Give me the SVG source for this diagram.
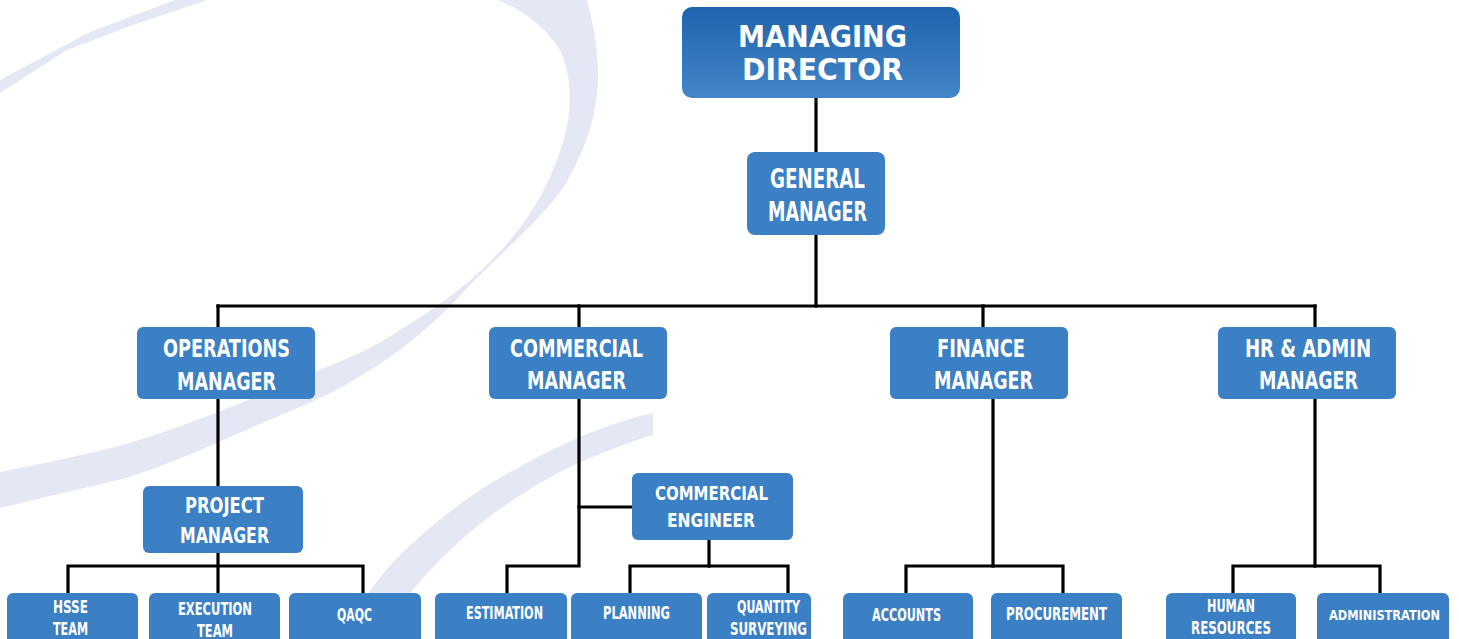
<svg xmlns="http://www.w3.org/2000/svg" width="1459" height="639" viewBox="0 0 1459 639">
<defs>
<linearGradient id="mdGrad" x1="0" y1="0" x2="0" y2="1">
<stop offset="0" stop-color="#1e63ad"/>
<stop offset="1" stop-color="#4386c8"/>
</linearGradient>
<style>
.box{fill:#3b80c5}
.t{fill:#ffffff;font-family:"DejaVu Sans Condensed","DejaVu Sans","Liberation Sans",sans-serif;font-weight:bold;text-anchor:middle}
.c{fill:none;stroke:#000000;stroke-width:3.2;stroke-linecap:square}
.sw{fill:#e4e8f4}
</style>
</defs>
<rect width="1459" height="639" fill="#ffffff"/>
<g id="background">
<path class="sw" d="M0,80 L90,32 L175,0 L207,0 L133,25 L67,50 L0,93 Z"/>
<path class="sw" d="M497,0 C515,6 545,25 560,50 C572,75 572,110 565,135 C555,170 540,205 510,240 C485,270 450,300 400,330 C370,350 340,362 300,378 C250,400 190,424 139,440 C100,452 50,462 0,472 L0,508 C45,497 90,487 126,478 C160,467 190,455 230,437 C280,415 320,400 345,385 C390,360 430,330 470,285 C510,245 545,215 565,185 C585,150 598,115 598,75 C598,45 592,20 587,0 Z"/>
<path class="sw" d="M653,413 C630,418 600,428 580,437 C550,450 515,468 480,490 C450,510 420,535 395,560 C375,582 355,610 340,639 L380,639 C395,612 415,585 440,560 C465,535 490,515 513,500 C540,482 565,468 590,458 C615,448 635,440 653,435 Z"/>
</g>
<g id="connectors">
<line class="c" x1="816" y1="98" x2="816" y2="152"/>
<line class="c" x1="816" y1="235" x2="816" y2="306"/>
<line class="c" x1="218" y1="306" x2="1315" y2="306"/>
<line class="c" x1="218" y1="306" x2="218" y2="327"/>
<line class="c" x1="579" y1="306" x2="579" y2="327"/>
<line class="c" x1="983" y1="306" x2="983" y2="327"/>
<line class="c" x1="1315" y1="306" x2="1315" y2="327"/>
<line class="c" x1="218" y1="399" x2="218" y2="486"/>
<line class="c" x1="218" y1="553" x2="218" y2="593"/>
<polyline class="c" points="68,593 68,566 363,566 363,593"/>
<polyline class="c" points="579,399 579,566 507,566 507,593"/>
<line class="c" x1="579" y1="507" x2="632" y2="507"/>
<line class="c" x1="709" y1="540" x2="709" y2="566"/>
<polyline class="c" points="630,593 630,566 788,566 788,593"/>
<line class="c" x1="993" y1="399" x2="993" y2="566"/>
<polyline class="c" points="906,593 906,566 1063,566 1063,593"/>
<line class="c" x1="1315" y1="399" x2="1315" y2="566"/>
<polyline class="c" points="1233,593 1233,566 1380,566 1380,593"/>
</g>
<g id="managing-director">
<rect x="682" y="7" width="278" height="91" rx="10" fill="url(#mdGrad)"/>
<text class="t" x="822.5" y="47" font-size="31" textLength="169" lengthAdjust="spacingAndGlyphs">MANAGING</text>
<text class="t" x="822.5" y="80" font-size="31" textLength="161" lengthAdjust="spacingAndGlyphs">DIRECTOR</text>
</g>
<g id="general-manager">
<rect class="box" x="747" y="152" width="138" height="83" rx="8"/>
<text class="t" x="817.5" y="188" font-size="27" textLength="95" lengthAdjust="spacingAndGlyphs">GENERAL</text>
<text class="t" x="817.5" y="221" font-size="27" textLength="99" lengthAdjust="spacingAndGlyphs">MANAGER</text>
</g>
<g id="operations-manager">
<rect class="box" x="137" y="327" width="178" height="72" rx="6"/>
<text class="t" x="226.5" y="357" font-size="24" textLength="127" lengthAdjust="spacingAndGlyphs">OPERATIONS</text>
<text class="t" x="226.5" y="390" font-size="24" textLength="99" lengthAdjust="spacingAndGlyphs">MANAGER</text>
</g>
<g id="commercial-manager">
<rect class="box" x="489" y="327" width="178" height="72" rx="6"/>
<text class="t" x="576.5" y="357" font-size="24" textLength="133" lengthAdjust="spacingAndGlyphs">COMMERCIAL</text>
<text class="t" x="576.5" y="389" font-size="24" textLength="99" lengthAdjust="spacingAndGlyphs">MANAGER</text>
</g>
<g id="finance-manager">
<rect class="box" x="890" y="327" width="178" height="72" rx="6"/>
<text class="t" x="981" y="357" font-size="24" textLength="88" lengthAdjust="spacingAndGlyphs">FINANCE</text>
<text class="t" x="983.5" y="389" font-size="24" textLength="99" lengthAdjust="spacingAndGlyphs">MANAGER</text>
</g>
<g id="hr-admin-manager">
<rect class="box" x="1218" y="327" width="178" height="72" rx="6"/>
<text class="t" x="1308" y="357" font-size="24" textLength="126" lengthAdjust="spacingAndGlyphs">HR &amp; ADMIN</text>
<text class="t" x="1308.5" y="389" font-size="24" textLength="99" lengthAdjust="spacingAndGlyphs">MANAGER</text>
</g>
<g id="project-manager">
<rect class="box" x="143" y="486" width="160" height="67" rx="6"/>
<text class="t" x="224.5" y="513" font-size="21" textLength="79" lengthAdjust="spacingAndGlyphs">PROJECT</text>
<text class="t" x="224.5" y="543" font-size="21" textLength="89" lengthAdjust="spacingAndGlyphs">MANAGER</text>
</g>
<g id="commercial-engineer">
<rect class="box" x="632" y="473" width="161" height="67" rx="6"/>
<text class="t" x="711.5" y="500" font-size="20" textLength="113" lengthAdjust="spacingAndGlyphs">COMMERCIAL</text>
<text class="t" x="711" y="527" font-size="20" textLength="88" lengthAdjust="spacingAndGlyphs">ENGINEER</text>
</g>
<g id="hsse-team">
<rect class="box" x="7" y="593" width="131" height="52" rx="6"/>
<text class="t" x="70.5" y="613" font-size="17" textLength="35" lengthAdjust="spacingAndGlyphs">HSSE</text>
<text class="t" x="70.5" y="635" font-size="17" textLength="35" lengthAdjust="spacingAndGlyphs">TEAM</text>
</g>
<g id="execution-team">
<rect class="box" x="149" y="593" width="131" height="52" rx="6"/>
<text class="t" x="215" y="615" font-size="17" textLength="74" lengthAdjust="spacingAndGlyphs">EXECUTION</text>
<text class="t" x="215" y="637" font-size="17" textLength="36" lengthAdjust="spacingAndGlyphs">TEAM</text>
</g>
<g id="qaqc">
<rect class="box" x="289" y="593" width="132" height="52" rx="6"/>
<text class="t" x="354.5" y="621" font-size="17" textLength="35" lengthAdjust="spacingAndGlyphs">QAQC</text>
</g>
<g id="estimation">
<rect class="box" x="435" y="593" width="132" height="52" rx="6"/>
<text class="t" x="504.5" y="619" font-size="17" textLength="77" lengthAdjust="spacingAndGlyphs">ESTIMATION</text>
</g>
<g id="planning">
<rect class="box" x="571" y="593" width="131" height="52" rx="6"/>
<text class="t" x="636.5" y="619" font-size="17" textLength="67" lengthAdjust="spacingAndGlyphs">PLANNING</text>
</g>
<g id="quantity-surveying">
<rect class="box" x="707" y="593" width="104" height="52" rx="6"/>
<text class="t" x="768.5" y="613" font-size="17" textLength="63" lengthAdjust="spacingAndGlyphs">QUANTITY</text>
<text class="t" x="768.5" y="635" font-size="17" textLength="77" lengthAdjust="spacingAndGlyphs">SURVEYING</text>
</g>
<g id="accounts">
<rect class="box" x="843" y="593" width="130" height="52" rx="6"/>
<text class="t" x="906.5" y="621" font-size="17" textLength="69" lengthAdjust="spacingAndGlyphs">ACCOUNTS</text>
</g>
<g id="procurement">
<rect class="box" x="991" y="593" width="131" height="52" rx="6"/>
<text class="t" x="1056.5" y="620" font-size="17" textLength="101" lengthAdjust="spacingAndGlyphs">PROCUREMENT</text>
</g>
<g id="human-resources">
<rect class="box" x="1166" y="593" width="130" height="52" rx="6"/>
<text class="t" x="1231" y="612" font-size="17" textLength="48" lengthAdjust="spacingAndGlyphs">HUMAN</text>
<text class="t" x="1231" y="634" font-size="17" textLength="80" lengthAdjust="spacingAndGlyphs">RESOURCES</text>
</g>
<g id="administration">
<rect class="box" x="1317" y="593" width="132" height="52" rx="6"/>
<text class="t" x="1384.5" y="620" font-size="14.5" textLength="111" lengthAdjust="spacingAndGlyphs">ADMINISTRATION</text>
</g>
</svg>
